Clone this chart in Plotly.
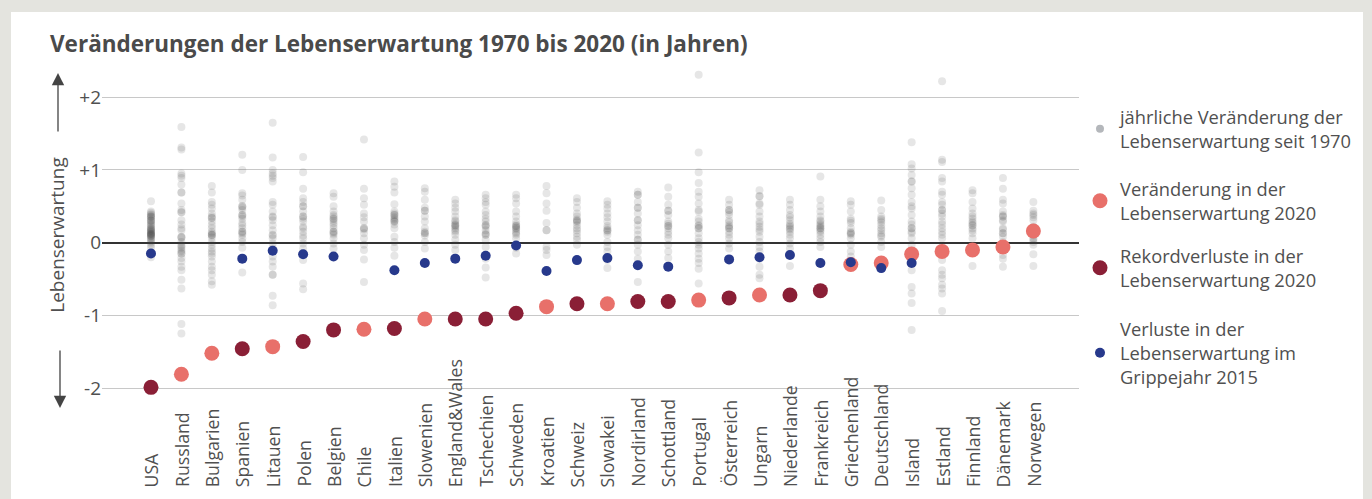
import plotly.graph_objects as go

countries = ["USA", "Russland", "Bulgarien", "Spanien", "Litauen", "Polen", "Belgien", "Chile",
             "Italien", "Slowenien", "England&Wales", "Tschechien", "Schweden", "Kroatien", "Schweiz",
             "Slowakei", "Nordirland", "Schottland", "Portugal", "Österreich", "Ungarn", "Niederlande",
             "Frankreich", "Griechenland", "Deutschland", "Island", "Estland", "Finnland", "Dänemark",
             "Norwegen"]

change_2020 = [-1.99, -1.81, -1.52, -1.46, -1.43, -1.36, -1.20, -1.19, -1.18, -1.05, -1.05, -1.05,
               -0.97, -0.88, -0.84, -0.84, -0.81, -0.81, -0.79, -0.76, -0.72, -0.72, -0.66, -0.30,
               -0.28, -0.155, -0.12, -0.10, -0.06, 0.16]

record_loss_2020 = [True, False, False, True, False, True, True, False, True, False, True, True,
                    True, False, True, False, True, True, False, True, False, True, True, False,
                    False, False, False, False, False, False]

flu_2015 = [-0.15, None, None, -0.22, -0.11, -0.16, -0.19, None, -0.38, -0.28, -0.22, -0.18,
            -0.04, -0.39, -0.24, -0.21, -0.31, -0.33, None, -0.23, -0.20, -0.17, -0.28, -0.27,
            -0.35, -0.28, None, None, None, None]

annual_usa = [0.57, 0.43, 0.41, 0.39, 0.38, 0.36, 0.35, 0.33, 0.31, 0.29, 0.27, 0.25, 0.24, 0.22, 0.20,
              0.19, 0.17, 0.16, 0.14, 0.13, 0.12, 0.11, 0.10, 0.09, 0.07, 0.06, 0.04, 0.02, 0.00, -0.03,
              -0.07, -0.20, 0.36, 0.30, 0.18, 0.12, 0.10, 0.15]
annual_russland = [1.59, 1.31, 1.28, 0.95, 0.92, 0.89, 0.80, 0.69, 0.69, 0.54, 0.42, 0.42, 0.31, 0.20,
                   0.17, 0.07, 0.07, 0.01, -0.03, -0.07, -0.10, -0.15, -0.15, -0.21, -0.26, -0.33, -0.38,
                   -0.51, -0.63, -1.12, -1.25, 0.08, 0.25, 0.45, -0.05, -0.12]
annual_bulgarien = [0.78, 0.69, 0.56, 0.52, 0.47, 0.40, 0.34, 0.34, 0.29, 0.24, 0.20, 0.15, 0.11, 0.11,
                    0.07, 0.01, -0.03, -0.08, -0.15, -0.19, -0.26, -0.33, -0.38, -0.44, -0.53, -0.58,
                    0.36, 0.10, 0.13, -0.12]
annual_spanien = [1.21, 1.00, 0.68, 0.65, 0.59, 0.50, 0.50, 0.45, 0.38, 0.38, 0.33, 0.27, 0.20, 0.15,
                  0.15, 0.11, 0.06, 0.01, -0.07, -0.22, -0.41, 0.36, 0.48, 0.13, 0.24]
annual_litauen = [1.65, 1.17, 1.00, 0.95, 0.89, 0.84, 0.56, 0.52, 0.43, 0.36, 0.31, 0.24, 0.17, 0.11,
                  0.06, -0.01, -0.08, -0.19, -0.26, -0.33, -0.44, -0.44, -0.73, -0.86, 0.35, 0.10, 0.92]
annual_polen = [1.18, 0.97, 0.74, 0.61, 0.56, 0.50, 0.50, 0.43, 0.36, 0.36, 0.29, 0.22, 0.15, 0.06,
                -0.01, -0.08, -0.15, -0.24, -0.56, -0.64, 0.33, 0.20, 0.10]
annual_belgien = [0.68, 0.63, 0.50, 0.43, 0.36, 0.33, 0.33, 0.27, 0.20, 0.15, 0.15, 0.11, 0.06, -0.01,
                  -0.08, 0.38, 0.24, 0.13, 0.30]
annual_chile = [1.42, 0.74, 0.61, 0.52, 0.40, 0.29, 0.20, 0.20, 0.13, 0.06, -0.03, -0.10, -0.23, -0.54,
                0.18, 0.35]
annual_italien = [0.84, 0.77, 0.69, 0.53, 0.43, 0.38, 0.38, 0.33, 0.29, 0.29, 0.20, 0.08, 0.01, -0.07,
                  -0.18, 0.35, 0.25, 0.40, 0.31]
annual_slowenien = [0.75, 0.70, 0.59, 0.44, 0.44, 0.36, 0.29, 0.20, 0.13, 0.13, 0.01, -0.08, 0.48, 0.15,
                    0.10]
annual_england_wales = [0.59, 0.54, 0.48, 0.43, 0.36, 0.29, 0.24, 0.24, 0.20, 0.15, 0.11, 0.04, -0.03,
                        -0.10, 0.22, 0.26, 0.31, 0.17]
annual_tschechien = [0.66, 0.61, 0.56, 0.52, 0.43, 0.33, 0.29, 0.24, 0.24, 0.17, 0.11, 0.11, 0.04, -0.06,
                     -0.22, -0.34, -0.48, 0.22, 0.13, 0.38]
annual_schweden = [0.66, 0.61, 0.54, 0.43, 0.36, 0.29, 0.23, 0.23, 0.20, 0.15, 0.11, 0.06, -0.07, -0.15,
                   0.25, 0.18, 0.13, 0.21]
annual_kroatien = [0.78, 0.68, 0.54, 0.44, 0.27, 0.17, 0.17, -0.06, -0.10, -0.17]
annual_schweiz = [0.61, 0.56, 0.48, 0.40, 0.36, 0.30, 0.30, 0.24, 0.17, 0.13, 0.08, 0.04, -0.03, 0.32,
                  0.28, 0.20]
annual_slowakei = [0.57, 0.52, 0.47, 0.40, 0.35, 0.29, 0.23, 0.17, 0.17, 0.11, 0.01, -0.06, -0.12, -0.24,
                   -0.35, 0.15, 0.20]
annual_nordirland = [0.70, 0.66, 0.66, 0.56, 0.48, 0.48, 0.40, 0.31, 0.31, 0.24, 0.17, 0.11, 0.04, 0.04,
                     -0.03, -0.12, -0.22, -0.31, -0.54]
annual_schottland = [0.76, 0.63, 0.52, 0.44, 0.44, 0.38, 0.29, 0.23, 0.23, 0.15, 0.11, 0.06, -0.03, -0.12,
                     -0.21, 0.20, 0.26]
annual_portugal = [2.31, 1.24, 0.97, 0.82, 0.70, 0.63, 0.54, 0.43, 0.33, 0.29, 0.24, 0.20, 0.20, 0.13,
                   0.06, 0.01, -0.03, -0.08, -0.15, -0.22, -0.28, -0.36, -0.56, 0.45, 0.23]
annual_oesterreich = [0.59, 0.52, 0.45, 0.45, 0.38, 0.31, 0.24, 0.20, 0.20, 0.15, 0.11, 0.06, -0.01,
                      -0.08, 0.42, 0.28, 0.22]
annual_ungarn = [0.72, 0.64, 0.64, 0.54, 0.52, 0.43, 0.36, 0.29, 0.22, 0.15, 0.08, 0.01, -0.06, -0.12,
                 -0.22, -0.33, -0.44, -0.49, 0.26, 0.18]
annual_niederlande = [0.59, 0.52, 0.45, 0.38, 0.31, 0.24, 0.20, 0.15, 0.11, 0.06, -0.01, -0.08, -0.32,
                      0.26, 0.18, 0.22, 0.35]
annual_frankreich = [0.91, 0.59, 0.50, 0.43, 0.36, 0.29, 0.24, 0.20, 0.20, 0.15, 0.11, 0.06, 0.01, -0.06,
                     0.22, 0.26, 0.17, 0.31]
annual_griechenland = [0.57, 0.52, 0.43, 0.33, 0.27, 0.20, 0.15, 0.13, 0.13, 0.06, -0.03, -0.12, -0.19,
                       0.11, 0.30]
annual_deutschland = [0.58, 0.45, 0.36, 0.31, 0.24, 0.17, 0.13, 0.08, 0.01, -0.06, 0.33, 0.20, 0.10, 0.28]
annual_island = [1.38, 1.08, 1.02, 0.93, 0.84, 0.84, 0.75, 0.66, 0.56, 0.47, 0.38, 0.29, 0.20, 0.20, 0.13,
                 0.06, -0.03, -0.12, -0.38, -0.61, -0.70, -0.83, -1.20, 0.50, 0.15, 0.25]
annual_estland = [2.22, 1.14, 1.11, 0.89, 0.84, 0.70, 0.66, 0.56, 0.52, 0.45, 0.45, 0.36, 0.29, 0.20,
                  0.15, 0.11, 0.06, -0.06, -0.12, -0.24, -0.38, -0.44, -0.49, -0.58, -0.63, -0.70, -0.94,
                  0.25, 0.40]
annual_finnland = [0.72, 0.68, 0.56, 0.47, 0.40, 0.36, 0.29, 0.24, 0.24, 0.17, 0.13, 0.06, -0.06, -0.32,
                   0.33, 0.20, 0.27]
annual_daenemark = [0.89, 0.74, 0.59, 0.54, 0.43, 0.36, 0.36, 0.29, 0.20, 0.13, 0.13, 0.08, 0.01, -0.08,
                    -0.17, -0.22, -0.33, 0.31, 0.38, 0.18]
annual_norwegen = [0.56, 0.44, 0.38, 0.31, 0.22, 0.13, 0.06, 0.01, -0.03, -0.16, -0.32, 0.40, 0.35, 0.10,
                   0.04]

annual_changes = [annual_usa, annual_russland, annual_bulgarien, annual_spanien, annual_litauen,
                  annual_polen, annual_belgien, annual_chile, annual_italien, annual_slowenien,
                  annual_england_wales, annual_tschechien, annual_schweden, annual_kroatien,
                  annual_schweiz, annual_slowakei, annual_nordirland, annual_schottland,
                  annual_portugal, annual_oesterreich, annual_ungarn, annual_niederlande,
                  annual_frankreich, annual_griechenland, annual_deutschland, annual_island,
                  annual_estland, annual_finnland, annual_daenemark, annual_norwegen]

y_ticks = [-2, -1, 0, 1, 2]
y_tick_text = ["-2", "-1", "0", "+1", "+2"]

FONT = "Open Sans"
TXT = "#505050"

# plot-area geometry (px)
W, H = 1372, 499
L, R, T, B = 102, 1079, 70, 400


def px_x(p):
    return (p - L) / (R - L)


def px_y(p):
    return (B - p) / (B - T)


fig = go.Figure()

gx, gy = [], []
for c, vals in zip(countries, annual_changes):
    gx += [c] * len(vals)
    gy += vals
fig.add_trace(go.Scatter(x=gx, y=gy, mode="markers",
                         marker=dict(size=8, color="rgb(60,60,60)", opacity=0.13, line=dict(width=0)),
                         showlegend=False, hoverinfo="skip", cliponaxis=False))
fig.add_trace(go.Scatter(x=[None], y=[None], mode="markers",
                         marker=dict(size=8, color="#b4b7bb"),
                         name="jährliche Veränderung der<br>Lebenserwartung seit 1970", legend="legend"))

lx = [c for c, r in zip(countries, record_loss_2020) if not r]
ly = [v for v, r in zip(change_2020, record_loss_2020) if not r]
fig.add_trace(go.Scatter(x=lx, y=ly, mode="markers",
                         marker=dict(size=15, color="#e8706a", line=dict(width=0)),
                         name="Veränderung in der<br>Lebenserwartung 2020", legend="legend2", cliponaxis=False))
dx = [c for c, r in zip(countries, record_loss_2020) if r]
dy = [v for v, r in zip(change_2020, record_loss_2020) if r]
fig.add_trace(go.Scatter(x=dx, y=dy, mode="markers",
                         marker=dict(size=15, color="#8a1f36", line=dict(width=0)),
                         name="Rekordverluste in der<br>Lebenserwartung 2020", legend="legend3", cliponaxis=False))
bx = [c for c, v in zip(countries, flu_2015) if v is not None]
by = [v for v in flu_2015 if v is not None]
fig.add_trace(go.Scatter(x=bx, y=by, mode="markers",
                         marker=dict(size=10, color="#27398c", line=dict(width=0)),
                         name="Verluste in der<br>Lebenserwartung im<br>Grippejahr 2015", legend="legend4",
                         cliponaxis=False))

annotations = []
for c in countries:
    annotations.append(dict(x=c, xref="x", y=px_y(489), yref="paper", text=c, showarrow=False,
                            textangle=-90, xanchor="center", yanchor="bottom",
                            font=dict(family=FONT, size=17.7, color=TXT)))
# arrows
annotations.append(dict(x=px_x(58), xref="paper", y=px_y(73), yref="paper", ax=0, ay=60,
                        showarrow=True, arrowhead=2, arrowsize=1.9, arrowwidth=1.3, arrowcolor="#444",
                        text=""))
annotations.append(dict(x=px_x(60), xref="paper", y=px_y(408), yref="paper", ax=0, ay=-59,
                        showarrow=True, arrowhead=2, arrowsize=1.9, arrowwidth=1.3, arrowcolor="#444",
                        text=""))

legend_common = dict(x=px_x(1080), xanchor="left", yanchor="middle", bgcolor="rgba(0,0,0,0)",
                     font=dict(family=FONT, size=18.3, color=TXT), itemclick=False)

fig.update_layout(
    width=W, height=H,
    margin=dict(l=L, r=W - R, t=T, b=H - B, pad=0),
    paper_bgcolor="#e4e4df",
    plot_bgcolor="rgba(0,0,0,0)",
    title=dict(text="<b>Veränderungen der Lebenserwartung 1970 bis 2020 (in Jahren)</b>",
               x=50 / W, xanchor="left", xref="container", y=1 - 44 / H, yanchor="middle",
               yref="container", font=dict(family=FONT, size=22.5, color="#4a4a4a")),
    xaxis=dict(type="category", categoryorder="array", categoryarray=countries,
               range=[-1.61, 30.5], showgrid=False, showticklabels=False, zeroline=False,
               showline=False, ticks=""),
    yaxis=dict(range=[-2.164, 2.375], tickvals=y_ticks, ticktext=y_tick_text,
               gridcolor="#c8c8c8", gridwidth=1, zeroline=True, zerolinecolor="#333",
               zerolinewidth=1.5, showline=False, ticks="",
               tickfont=dict(family=FONT, size=19, color=TXT),
               title=dict(text="Lebenserwartung", standoff=9,
                          font=dict(family=FONT, size=19, color=TXT))),
    shapes=[dict(type="rect", xref="paper", yref="paper", x0=px_x(11), x1=px_x(1363),
                 y0=px_y(12), y1=px_y(520), fillcolor="white", line=dict(width=0), layer="below")],
    annotations=annotations,
    legend=dict(legend_common, y=px_y(129)),
    legend2=dict(legend_common, y=px_y(201)),
    legend3=dict(legend_common, y=px_y(268)),
    legend4=dict(legend_common, y=px_y(353)),
    showlegend=True,
)

fig.write_html("out.html", config={"displayModeBar": False},
               post_script="document.body.style.margin='0';")
